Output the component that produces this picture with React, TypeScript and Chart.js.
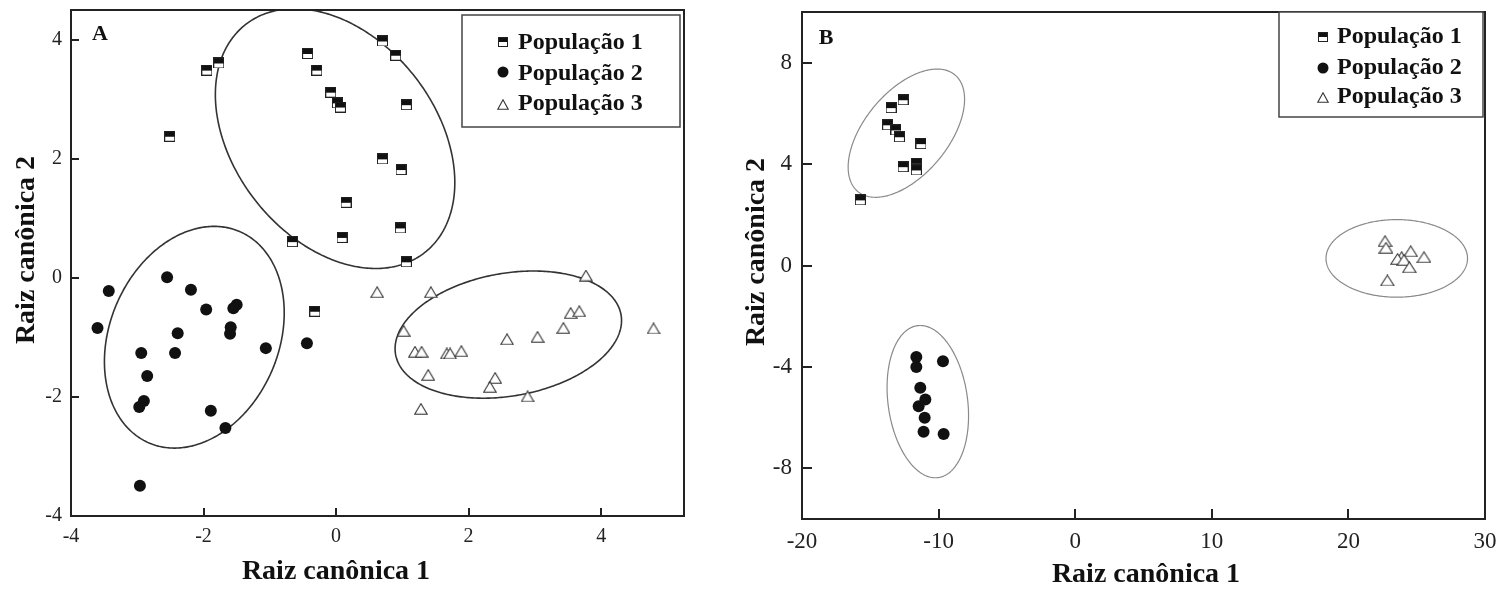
import { useEffect, useRef } from "react";
import { Chart, registerables } from "chart.js";

Chart.register(...registerables);

// ---------- Text ----------
const SERIES_LABELS = ["População 1", "População 2", "População 3"];
const X_TITLE = "Raiz canônica 1";
const Y_TITLE = "Raiz canônica 2";

// ---------- Panel A data ----------
const A_X_TICKS = [-4, -2, 0, 2, 4];
const A_Y_TICKS = [-4, -2, 0, 2, 4];
const A_POP1: [number, number][] = [
  [-1.95, 3.49], [-1.77, 3.61], [-2.51, 2.38], [-0.43, 3.77], [-0.29, 3.49],
  [-0.08, 3.12], [0.02, 2.94], [0.065, 2.87], [0.7, 3.98], [0.9, 3.74],
  [1.06, 2.91], [0.7, 2.0], [0.98, 1.82], [0.15, 1.27], [0.97, 0.84],
  [0.09, 0.68], [-0.66, 0.61], [1.06, 0.27], [-0.32, -0.56],
];
const A_POP2: [number, number][] = [
  [-2.55, 0.01], [-3.43, -0.22], [-2.19, -0.2], [-1.96, -0.53], [-1.5, -0.45],
  [-1.55, -0.51], [-3.6, -0.84], [-2.39, -0.93], [-1.59, -0.83], [-1.6, -0.94],
  [-1.06, -1.18], [-0.44, -1.1], [-2.94, -1.26], [-2.43, -1.26], [-2.85, -1.65],
  [-2.9, -2.07], [-2.97, -2.17], [-1.89, -2.23], [-1.67, -2.52], [-2.96, -3.49],
];
const A_POP3: [number, number][] = [
  [0.62, -0.24], [1.43, -0.24], [3.77, 0.04], [1.02, -0.89], [1.19, -1.24],
  [1.29, -1.24], [1.67, -1.27], [1.72, -1.27], [1.89, -1.23], [1.39, -1.63],
  [1.28, -2.2], [2.4, -1.68], [2.32, -1.83], [2.89, -1.99], [2.58, -1.03],
  [3.04, -0.99], [3.43, -0.84], [3.54, -0.59], [3.67, -0.56], [4.79, -0.85],
];
// ellipses: centre + two conjugate semi-diameters (data units)
const A_ELLIPSES = [
  { cx: -0.015, cy: 2.34, ux: 1.354, uy: -1.913, vx: -1.196, vy: -1.05 },
  { cx: -2.139, cy: -0.997, ux: 0.683, uy: 1.776, vx: 1.172, vy: -0.56 },
  { cx: 2.599, cy: -0.953, ux: 1.701, uy: 0.333, vx: 0.16, vy: -1.015 },
];

// ---------- Panel B data ----------
const B_X_TICKS = [-20, -10, 0, 10, 20, 30];
const B_Y_TICKS = [-8, -4, 0, 4, 8];
const B_POP1: [number, number][] = [
  [-15.73, 2.59], [-13.48, 6.23], [-12.6, 6.54], [-13.73, 5.55], [-13.12, 5.35],
  [-12.87, 5.08], [-11.29, 4.81], [-12.6, 3.9], [-11.63, 4.03], [-11.63, 3.77],
];
const B_POP2: [number, number][] = [
  [-11.63, -3.61], [-11.63, -4.0], [-9.68, -3.78], [-11.34, -4.82], [-10.97, -5.29],
  [-11.46, -5.55], [-11.02, -6.01], [-11.1, -6.56], [-9.63, -6.65],
];
const B_POP3: [number, number][] = [
  [22.68, 0.96], [22.75, 0.7], [24.56, 0.56], [23.9, 0.33], [23.6, 0.26],
  [24.07, 0.22], [25.53, 0.33], [24.46, -0.07], [22.85, -0.59],
];
const B_ELLIPSES = [
  { cx: -12.36, cy: 5.22, ux: 3.556, uy: 2.299, vx: 2.348, vy: -1.055 },
  { cx: -10.79, cy: -5.37, ux: 0.761, uy: -2.996, vx: -2.884, vy: -0.213 },
  { cx: 23.54, cy: 0.28, ux: 5.18, uy: 0, vx: 0, vy: 1.53 },
];

const SERIF = '"Liberation Serif", "Times New Roman", serif';

function makeSquare(size: number) {
  const c = document.createElement("canvas");
  c.width = size;
  c.height = size;
  const ctx = c.getContext("2d")!;
  ctx.fillStyle = "#fff";
  ctx.fillRect(0, 0, size, size);
  ctx.fillStyle = "#111";
  ctx.fillRect(0, 0, size, Math.round(size / 2));
  ctx.strokeStyle = "#222";
  ctx.lineWidth = 1;
  ctx.strokeRect(0.5, 0.5, size - 1, size - 1);
  return c;
}

function makeTriangle(w: number, h: number) {
  const c = document.createElement("canvas");
  c.width = w;
  c.height = h;
  const ctx = c.getContext("2d")!;
  ctx.beginPath();
  ctx.moveTo(w / 2, 0.8);
  ctx.lineTo(w - 0.8, h - 0.8);
  ctx.lineTo(0.8, h - 0.8);
  ctx.closePath();
  ctx.fillStyle = "#fff";
  ctx.fill();
  ctx.strokeStyle = "#333";
  ctx.lineWidth = 1.1;
  ctx.stroke();
  return c;
}

type Spec = {
  pop1: [number, number][];
  pop2: [number, number][];
  pop3: [number, number][];
  ellipses: { cx: number; cy: number; ux: number; uy: number; vx: number; vy: number }[];
  xMin: number; xMax: number; yMin: number; yMax: number;
  xTicks: number[]; yTicks: number[];
  padTop: number; padRight: number; yWidth: number; xHeight: number;
  tickFont: number; tickPadX: number; tickPadY: number; tickLen: number;
  ellipseColor: string; ellipseWidth: number;
  sq: number; circleR: number; triW: number; triH: number;
  letter: string; letterX: number; letterY: number;
  xTitleX: number; xTitleY: number; yTitleX: number; yTitleY: number;
  legend: { x: number; y: number; w: number; h: number; mx: number; my: number[]; tx: number; ty: number[] };
};

function build(canvas: HTMLCanvasElement, s: Spec) {
  const sq = makeSquare(s.sq);
  const tri = makeTriangle(s.triW, s.triH);
  const lsq = makeSquare(10);
  const ltri = makeTriangle(12, 11);

  const deco = {
    id: "deco",
    beforeDatasetsDraw(chart: any) {
      const { ctx, chartArea: ca, scales } = chart;
      const x = scales.x, y = scales.y;
      ctx.save();
      ctx.beginPath();
      ctx.rect(ca.left, ca.top, ca.right - ca.left, ca.bottom - ca.top);
      ctx.clip();
      ctx.strokeStyle = s.ellipseColor;
      ctx.lineWidth = s.ellipseWidth;
      for (const e of s.ellipses) {
        ctx.beginPath();
        for (let i = 0; i <= 360; i++) {
          const t = (i * Math.PI) / 180;
          const px = x.getPixelForValue(e.cx + e.ux * Math.cos(t) + e.vx * Math.sin(t));
          const py = y.getPixelForValue(e.cy + e.uy * Math.cos(t) + e.vy * Math.sin(t));
          if (i === 0) ctx.moveTo(px, py);
          else ctx.lineTo(px, py);
        }
        ctx.closePath();
        ctx.stroke();
      }
      ctx.restore();
    },
    afterDraw(chart: any) {
      const { ctx, chartArea: ca, scales } = chart;
      const x = scales.x, y = scales.y;
      ctx.save();
      // frame
      ctx.strokeStyle = "#222";
      ctx.lineWidth = 2;
      ctx.strokeRect(ca.left, ca.top, ca.right - ca.left, ca.bottom - ca.top);
      // inside ticks
      ctx.lineWidth = 2;
      ctx.beginPath();
      for (const v of s.xTicks) {
        const px = Math.round(x.getPixelForValue(v));
        if (px <= ca.left + 1 || px >= ca.right - 1) continue;
        ctx.moveTo(px, ca.bottom);
        ctx.lineTo(px, ca.bottom - s.tickLen);
      }
      for (const v of s.yTicks) {
        const py = Math.round(y.getPixelForValue(v));
        if (py <= ca.top + 1 || py >= ca.bottom - 1) continue;
        ctx.moveTo(ca.left, py);
        ctx.lineTo(ca.left + s.tickLen, py);
      }
      ctx.stroke();
      // titles
      ctx.fillStyle = "#111";
      ctx.font = `bold 28px ${SERIF}`;
      ctx.textAlign = "center";
      ctx.textBaseline = "middle";
      ctx.fillText(X_TITLE, s.xTitleX, s.xTitleY);
      ctx.save();
      ctx.translate(s.yTitleX, s.yTitleY);
      ctx.rotate(-Math.PI / 2);
      ctx.fillText(Y_TITLE, 0, 0);
      ctx.restore();
      // panel letter
      ctx.font = `bold 22px ${SERIF}`;
      ctx.fillText(s.letter, s.letterX, s.letterY);
      // legend
      const L = s.legend;
      ctx.fillStyle = "#fff";
      ctx.fillRect(L.x, L.y, L.w, L.h);
      ctx.strokeStyle = "#444";
      ctx.lineWidth = 1.5;
      ctx.strokeRect(L.x, L.y, L.w, L.h);
      chart.data.datasets.forEach((ds: any, i: number) => {
        const my = L.my[i];
        if (i === 0) ctx.drawImage(lsq, Math.round(L.mx - 5), Math.round(my - 5));
        else if (i === 1) {
          ctx.beginPath();
          ctx.arc(L.mx, my, 5.5, 0, Math.PI * 2);
          ctx.fillStyle = "#111";
          ctx.fill();
        } else ctx.drawImage(ltri, Math.round(L.mx - 6), Math.round(my - 5.5));
        ctx.fillStyle = "#111";
        ctx.font = `bold 24px ${SERIF}`;
        ctx.textAlign = "left";
        ctx.textBaseline = "alphabetic";
        ctx.fillText(ds.label, L.tx, L.ty[i]);
      });
      ctx.restore();
    },
  };

  const toPts = (a: [number, number][]) => a.map(([x, y]) => ({ x, y }));
  const tickFont = { family: SERIF, size: s.tickFont };

  return new Chart(canvas, {
    type: "scatter",
    data: {
      datasets: [
        { label: SERIES_LABELS[0], data: toPts(s.pop1), pointStyle: sq as any, pointRadius: s.sq / 2, borderWidth: 0 },
        { label: SERIES_LABELS[1], data: toPts(s.pop2), pointStyle: "circle", pointRadius: s.circleR, backgroundColor: "#111", borderColor: "#111", borderWidth: 0 },
        { label: SERIES_LABELS[2], data: toPts(s.pop3), pointStyle: tri as any, pointRadius: s.triW / 2, borderWidth: 0 },
      ],
    },
    options: {
      animation: false,
      responsive: false,
      events: [],
      layout: { padding: { left: 0, top: s.padTop, right: s.padRight, bottom: 0 } },
      plugins: { legend: { display: false }, tooltip: { enabled: false } },
      scales: {
        x: {
          type: "linear",
          min: s.xMin,
          max: s.xMax,
          afterFit: (sc: any) => {
            sc.height = s.xHeight;
            sc.paddingLeft = 0;
            sc.paddingRight = 0;
          },
          afterBuildTicks: (sc: any) => { sc.ticks = s.xTicks.map((v) => ({ value: v })); },
          grid: { display: false, drawTicks: false },
          border: { display: false },
          ticks: { font: tickFont, color: "#222", padding: s.tickPadX, maxRotation: 0, autoSkip: false },
        },
        y: {
          type: "linear",
          min: s.yMin,
          max: s.yMax,
          afterFit: (sc: any) => {
            sc.width = s.yWidth;
            sc.paddingTop = 0;
            sc.paddingBottom = 0;
          },
          afterBuildTicks: (sc: any) => { sc.ticks = s.yTicks.map((v) => ({ value: v })); },
          grid: { display: false, drawTicks: false },
          border: { display: false },
          ticks: { font: tickFont, color: "#222", padding: s.tickPadY, autoSkip: false },
        },
      },
    },
    plugins: [deco],
  } as any);
}

const SPEC_A: Spec = {
  pop1: A_POP1, pop2: A_POP2, pop3: A_POP3, ellipses: A_ELLIPSES,
  xMin: -4, xMax: 5.25, yMin: -4, yMax: 4.5,
  xTicks: A_X_TICKS, yTicks: A_Y_TICKS,
  padTop: 10, padRight: 730 - 684, yWidth: 71, xHeight: 590 - 516,
  tickFont: 20, tickPadX: 9, tickPadY: 9, tickLen: 8,
  ellipseColor: "#333", ellipseWidth: 1.6,
  sq: 11, circleR: 6, triW: 14, triH: 12,
  letter: "A", letterX: 100, letterY: 34,
  xTitleX: 336, xTitleY: 572, yTitleX: 27, yTitleY: 250,
  legend: { x: 462, y: 15, w: 218, h: 112, mx: 503, my: [42, 72, 104], tx: 518, ty: [49, 80, 110] },
};

const SPEC_B: Spec = {
  pop1: B_POP1, pop2: B_POP2, pop3: B_POP3, ellipses: B_ELLIPSES,
  xMin: -20, xMax: 30, yMin: -10, yMax: 10,
  xTicks: B_X_TICKS, yTicks: B_Y_TICKS,
  padTop: 12, padRight: 771 - 755, yWidth: 72, xHeight: 590 - 519,
  tickFont: 23, tickPadX: 9, tickPadY: 10, tickLen: 10,
  ellipseColor: "#8a8a8a", ellipseWidth: 1.2,
  sq: 11, circleR: 6, triW: 15, triH: 12,
  letter: "B", letterX: 96, letterY: 38,
  xTitleX: 416, xTitleY: 575, yTitleX: 27, yTitleY: 252,
  legend: { x: 549, y: 12, w: 204, h: 105, mx: 593, my: [37, 68, 97], tx: 607, ty: [43, 74, 103] },
};

export default function App() {
  const refA = useRef<HTMLCanvasElement>(null);
  const refB = useRef<HTMLCanvasElement>(null);

  useEffect(() => {
    document.body.style.margin = "0";
    const a = build(refA.current!, SPEC_A);
    const b = build(refB.current!, SPEC_B);
    return () => {
      a.destroy();
      b.destroy();
    };
  }, []);

  return (
    <div style={{ position: "relative", width: 1501, height: 590, background: "#fff" }}>
      <canvas ref={refA} width={730} height={590} style={{ position: "absolute", left: 0, top: 0, width: 730, height: 590 }} />
      <canvas ref={refB} width={771} height={590} style={{ position: "absolute", left: 730, top: 0, width: 771, height: 590 }} />
    </div>
  );
}
